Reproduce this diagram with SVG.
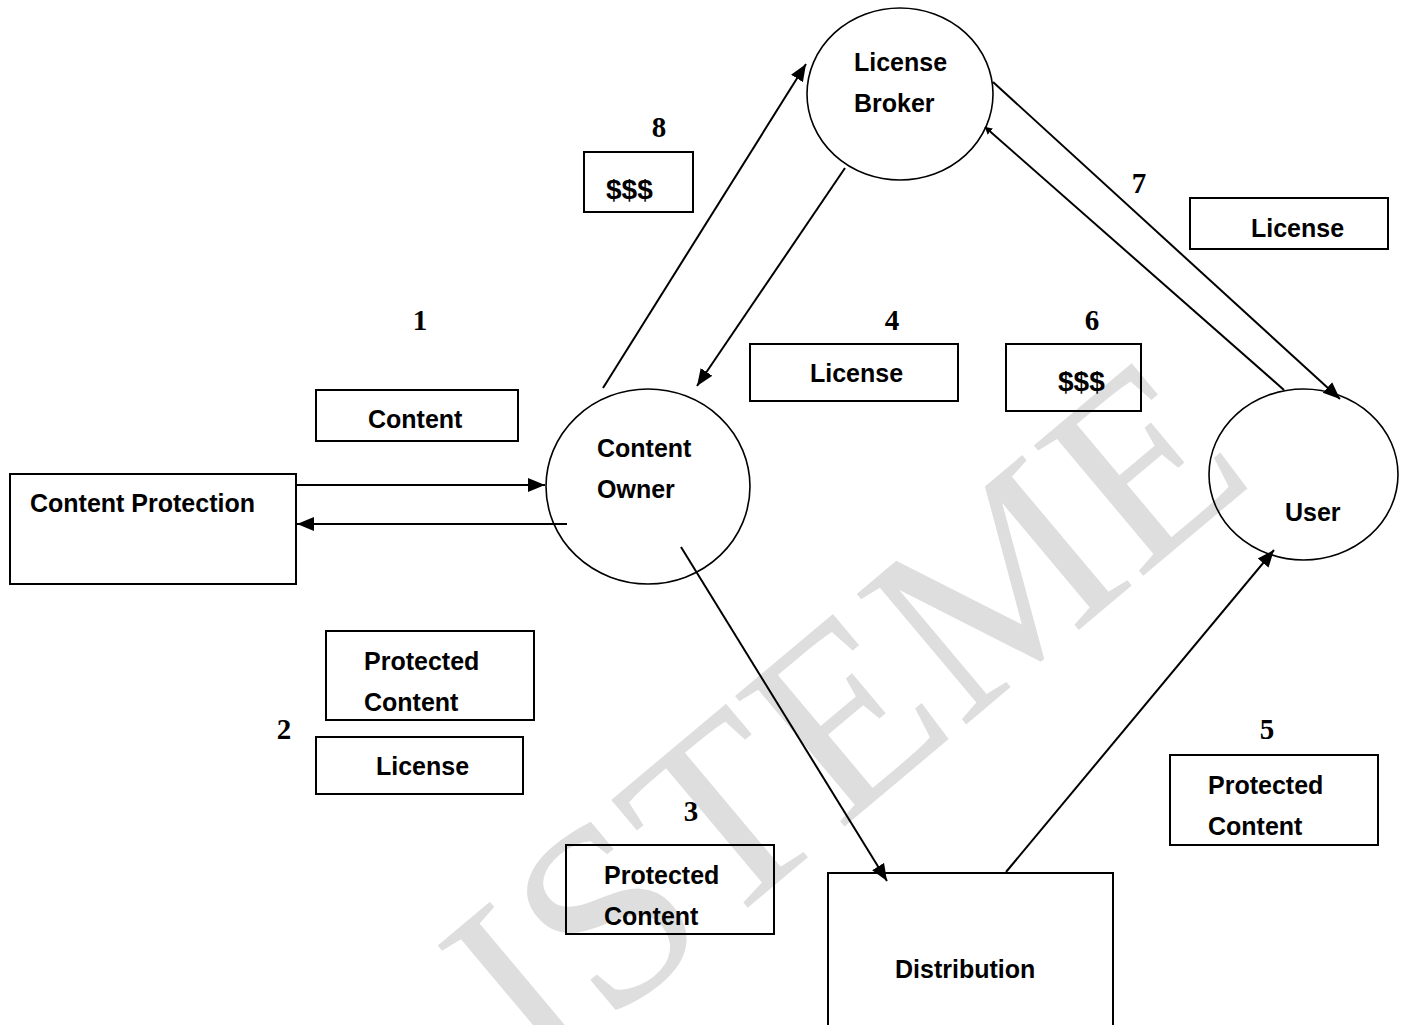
<svg xmlns="http://www.w3.org/2000/svg" width="1401" height="1025" viewBox="0 0 1401 1025">
<style>
.box{fill:none;stroke:#000;stroke-width:2}
.node{fill:none;stroke:#000;stroke-width:1.6}
.lbl{font-family:"Liberation Sans",Arial,sans-serif;font-weight:bold;font-size:25px;fill:#000}
.num{font-family:"Liberation Serif","Times New Roman",serif;font-weight:bold;font-size:29px;fill:#000;text-anchor:middle}
.wm{font-family:"Liberation Serif","Times New Roman",serif;font-size:260px;fill:#dedede}
.conn{fill:none;stroke:#000;stroke-width:2}
</style>
<defs>
<marker id="ah" markerUnits="userSpaceOnUse" markerWidth="20" markerHeight="16" refX="17" refY="8" orient="auto">
<path d="M0,1 L17,8 L0,15 Z" fill="#000"/>
</marker>
<marker id="ahs" markerUnits="userSpaceOnUse" markerWidth="8" markerHeight="8" refX="7" refY="4" orient="auto">
<path d="M0,0 L7,4 L0,8 Z" fill="#000"/>
</marker>
</defs>
<rect width="1401" height="1025" fill="#fff"/>
<g id="watermark" transform="translate(540,1082) rotate(-40)">
<text class="wm" x="0" y="0">ISTEME</text>
</g>
<g id="connectors">
<line class="conn" x1="297" y1="485" x2="545" y2="485" stroke-width="3" marker-end="url(#ah)"/>
<line class="conn" x1="567" y1="524" x2="297" y2="524" stroke-width="3" marker-end="url(#ah)"/>
<line class="conn" x1="603" y1="388" x2="806" y2="64" marker-end="url(#ah)"/>
<line class="conn" x1="845" y1="168" x2="697" y2="386" marker-end="url(#ah)"/>
<line class="conn" x1="993" y1="82" x2="1340" y2="399" marker-end="url(#ah)"/>
<line class="conn" x1="1284" y1="390" x2="985" y2="127" marker-end="url(#ahs)"/>
<line class="conn" x1="681" y1="547" x2="887" y2="881" marker-end="url(#ah)"/>
<line class="conn" x1="1006" y1="872" x2="1274" y2="550" marker-end="url(#ah)"/>
</g>
<g id="content-protection">
<rect class="box" x="10" y="474" width="286" height="110"/>
<text class="lbl" x="30" y="512">Content Protection</text>
</g>
<g id="content-owner">
<ellipse class="node" cx="648" cy="486.5" rx="102" ry="97.5"/>
<text class="lbl" x="597" y="457">Content</text>
<text class="lbl" x="597" y="498">Owner</text>
</g>
<g id="license-broker">
<ellipse class="node" cx="900" cy="94" rx="93" ry="86"/>
<text class="lbl" x="854" y="71">License</text>
<text class="lbl" x="854" y="112">Broker</text>
</g>
<g id="user">
<ellipse class="node" cx="1303.5" cy="474.5" rx="94.5" ry="85.5"/>
<text class="lbl" x="1285" y="521">User</text>
</g>
<g id="distribution">
<polyline class="box" points="828,1026 828,873 1113,873 1113,1026"/>
<text class="lbl" x="895" y="978">Distribution</text>
</g>
<g id="label-8">
<text class="num" x="659" y="137">8</text>
<rect class="box" x="584" y="152" width="109" height="60"/>
<text class="lbl" x="606" y="199" style="font-size:28px">$$$</text>
</g>
<g id="label-7">
<text class="num" x="1139" y="193">7</text>
<rect class="box" x="1190" y="198" width="198" height="51"/>
<text class="lbl" x="1251" y="237">License</text>
</g>
<g id="label-1">
<text class="num" x="420" y="330">1</text>
<rect class="box" x="316" y="390" width="202" height="51"/>
<text class="lbl" x="368" y="428">Content</text>
</g>
<g id="label-4">
<text class="num" x="892" y="330">4</text>
<rect class="box" x="750" y="344" width="208" height="57"/>
<text class="lbl" x="810" y="382">License</text>
</g>
<g id="label-6">
<text class="num" x="1092" y="330">6</text>
<rect class="box" x="1006" y="344" width="135" height="67"/>
<text class="lbl" x="1058" y="391" style="font-size:28px">$$$</text>
</g>
<g id="label-2">
<rect class="box" x="326" y="631" width="208" height="89"/>
<text class="lbl" x="364" y="670">Protected</text>
<text class="lbl" x="364" y="711">Content</text>
<text class="num" x="284" y="739">2</text>
<rect class="box" x="316" y="737" width="207" height="57"/>
<text class="lbl" x="376" y="775">License</text>
</g>
<g id="label-3">
<text class="num" x="691" y="821">3</text>
<rect class="box" x="566" y="845" width="208" height="89"/>
<text class="lbl" x="604" y="884">Protected</text>
<text class="lbl" x="604" y="925">Content</text>
</g>
<g id="label-5">
<text class="num" x="1267" y="739">5</text>
<rect class="box" x="1170" y="755" width="208" height="90"/>
<text class="lbl" x="1208" y="794">Protected</text>
<text class="lbl" x="1208" y="835">Content</text>
</g>
</svg>
